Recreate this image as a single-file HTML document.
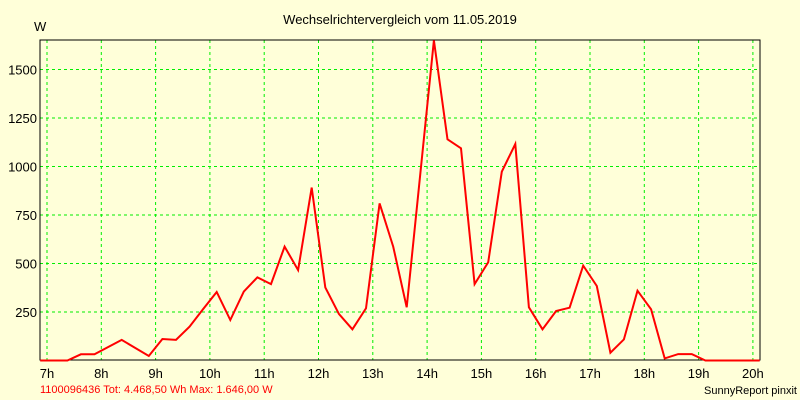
<!DOCTYPE html>
<html><head><meta charset="utf-8"><style>
html,body{margin:0;padding:0;background:#ffffd9;}
svg{display:block;font-family:"Liberation Sans",sans-serif;}
</style></head><body>
<svg id="chart" width="800" height="400" viewBox="0 0 800 400" xmlns="http://www.w3.org/2000/svg">
<rect x="0" y="0" width="800" height="400" fill="#ffffd9"/>
<text x="400" y="24" text-anchor="middle" font-size="13" fill="#000">Wechselrichtervergleich vom 11.05.2019</text>
<text x="34" y="31" font-size="13" fill="#000">W</text>
<g id="grid"></g>
<g id="ticks"></g>
<rect x="40" y="40" width="720" height="320" fill="none" stroke="#000" stroke-width="1"/>
<polyline id="series" fill="none" stroke="#ff0000" stroke-width="2" stroke-linejoin="miter"/>
<text x="40" y="393" font-size="11" fill="#ff0000">1100096436 Tot: 4.468,50 Wh Max: 1.646,00 W</text>
<text x="797" y="394" text-anchor="end" font-size="11" fill="#000">SunnyReport pinxit</text>
</svg>
<script>
const hourLabels = [7,8,9,10,11,12,13,14,15,16,17,18,19,20];
const yTicks = [250,500,750,1000,1250,1500];
const times = [6.875,7.375,7.625,7.875,8.375,8.875,9.125,9.375,9.625,9.875,10.125,10.375,10.625,10.875,11.125,11.375,11.625,11.875,12.125,12.375,12.625,12.875,13.125,13.375,13.625,14.125,14.375,14.625,14.875,15.125,15.375,15.625,15.875,16.125,16.375,16.625,16.875,17.125,17.375,17.625,17.875,18.125,18.375,18.625,18.875,19.125,20.125];
const watts = [0,0,32,32,106,23,111,106,174,265,353,209,355,429,394,587,466,891,377,240,161,269,810,587,274,1650,1140,1094,394,506,973,1116,274,161,255,272,489,384,40,109,360,264,11,33,33,0,0];
const NS="http://www.w3.org/2000/svg";
function xs(t){return 47+(t-7)*54.3;}
function ys(v){return 360.5-v*0.194;}
const grid=document.getElementById('grid'), ticks=document.getElementById('ticks');
hourLabels.forEach(h=>{
  const x=xs(h);
  const l=document.createElementNS(NS,'line');
  l.setAttribute('x1',x);l.setAttribute('x2',x);l.setAttribute('y1',40);l.setAttribute('y2',360);
  l.setAttribute('stroke','#00ee00');l.setAttribute('stroke-dasharray','3,3');
  
  
  grid.appendChild(l);
  const t=document.createElementNS(NS,'text');
  t.setAttribute('x',x);t.setAttribute('y',378);t.setAttribute('text-anchor','middle');t.setAttribute('font-size','13');
  t.textContent=h+'h';
  
  
  ticks.appendChild(t);
});
yTicks.forEach(v=>{
  const y=ys(v);
  const l=document.createElementNS(NS,'line');
  l.setAttribute('x1',40);l.setAttribute('x2',760);l.setAttribute('y1',y);l.setAttribute('y2',y);
  l.setAttribute('stroke','#00ee00');l.setAttribute('stroke-dasharray','3,3');
  
  
  grid.appendChild(l);
  const t=document.createElementNS(NS,'text');
  t.setAttribute('x',37);t.setAttribute('y',y+5);t.setAttribute('text-anchor','end');t.setAttribute('font-size','13');
  t.textContent=v;
  
  
  ticks.appendChild(t);
});
document.getElementById('series').setAttribute('points',times.map((t,i)=>Math.min(760,Math.max(40,xs(t))).toFixed(1)+','+Math.max(40,ys(watts[i])).toFixed(1)).join(' '));
</script>
</body></html>
